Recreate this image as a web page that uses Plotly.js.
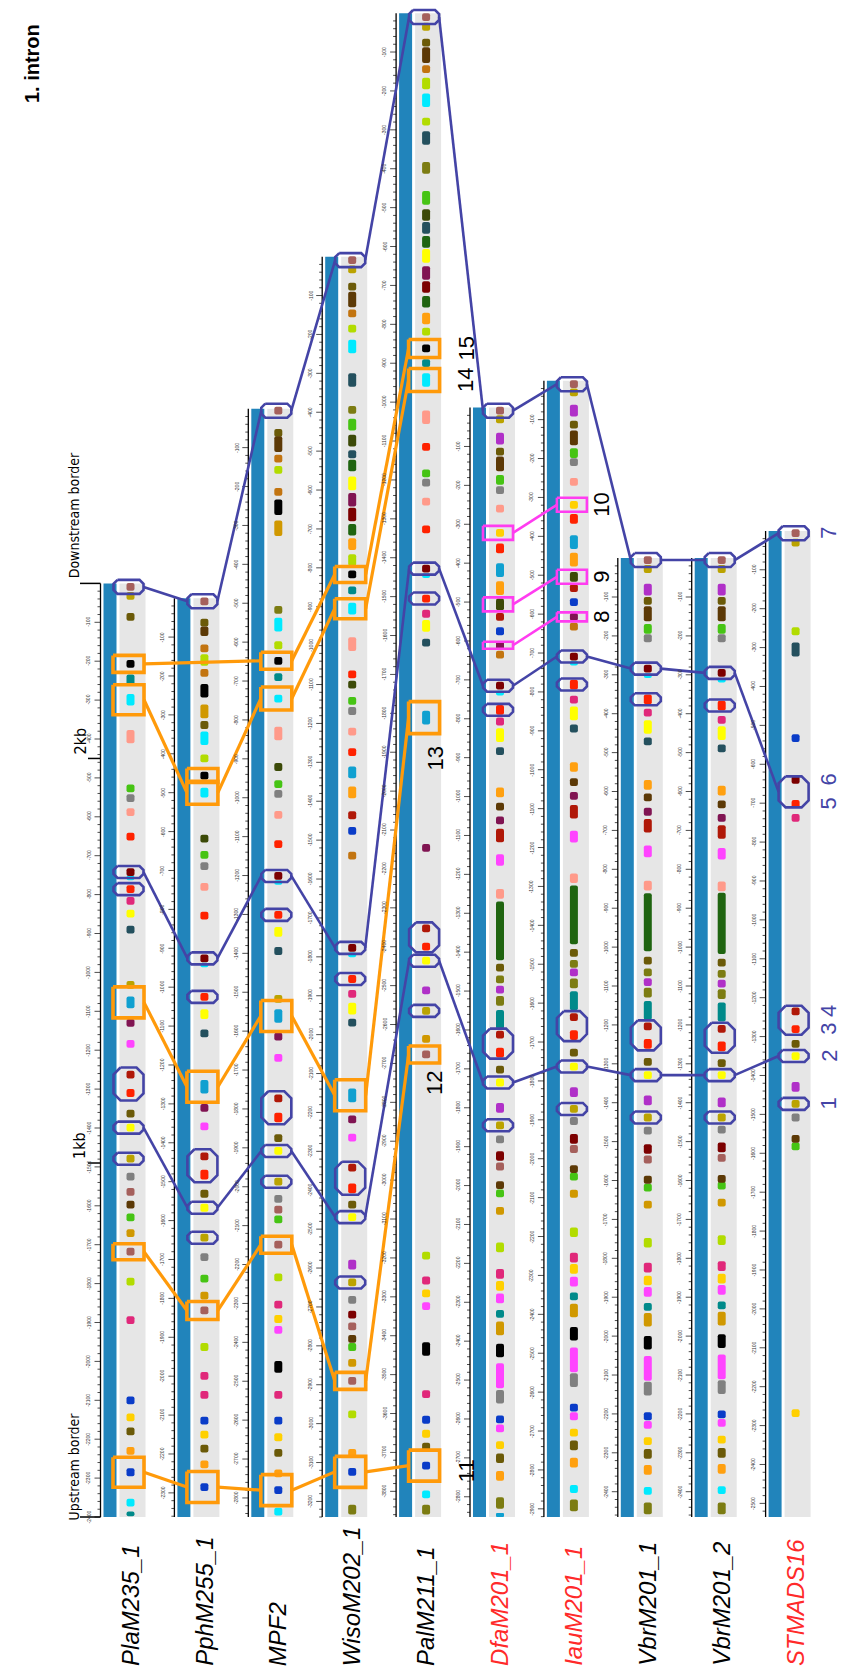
<!DOCTYPE html>
<html><head><meta charset="utf-8">
<script src="https://cdn.plot.ly/plotly-3.0.1.min.js"></script>
<style>html,body{margin:0;padding:0;background:#fff}#chart{width:842px;height:1677px}</style>
</head><body><div id="chart"></div>
<script>
// ---------------- DATA ----------------
const trackNames = ['PlaM235_1','PphM255_1','MPF2','WisoM202_1','PalM211_1','DfaM201_1','IauM201_1','VbrM201_1','VbrM201_2','STMADS16'];
const nameColors = ['#000','#000','#000','#000','#000','#ff2a2a','#ff2a2a','#000','#000','#ff2a2a'];
const trackLengths = [2400, 2362, 2849, 3240, 3866, 2852, 2921, 2465, 2465, 2535];

// motif: [position bp (from upstream border), motif type, length bp]
const PlaM235_1 = [[2391,'rb'],[2368,'og'],[2314,'do'],[2193,'bk'],[2152,'te',28],[2101,'cy',30],[2006,'sa',34],[1873,'gr'],[1848,'gy'],[1812,'sa'],[1749,'re'],[1658,'mr'],[1643,'cy',12],[1614,'re'],[1584,'cr'],[1551,'ye'],[1510,'ds'],[1368,'og'],[1323,'sb',30],[1270,'mp'],[1216,'mg'],[1137,'dr'],[1090,'re'],[1037,'do'],[1001,'ye'],[921,'og'],[875,'gy'],[836,'rb'],[803,'db'],[770,'gr'],[730,'gd'],[682,'rb'],[605,'yg'],[506,'cr'],[300,'bl'],[256,'go'],[220,'do'],[170,'or'],[115,'bl'],[37,'cy'],[8,'te',12]];
const PphM255_1 = [[2354,'rb'],[2299,'do'],[2277,'db',25],[2233,'ob'],[2203,'yg',30],[2170,'ob'],[2124,'bk',35],[2071,'gd',35],[2036,'do'],[2002,'cy',35],[1950,'yg'],[1906,'bk'],[1862,'cy',25],[1744,'dg'],[1702,'gr'],[1673,'gy'],[1620,'sa'],[1546,'re'],[1436,'mr'],[1419,'cy',12],[1337,'re'],[1293,'ye',25],[1243,'ds'],[1106,'sb',35],[1052,'mp'],[1004,'mg'],[927,'dr'],[880,'re',25],[831,'do'],[795,'ye'],[718,'og'],[668,'gy'],[613,'gr'],[569,'gd'],[531,'rb'],[437,'yg'],[363,'cr'],[314,'cr'],[248,'bl'],[212,'go'],[176,'do'],[135,'or'],[77,'bl']];
const MPF2 = [[2844,'rb'],[2787,'do'],[2758,'db',40],[2721,'ob'],[2692,'yg'],[2635,'ob'],[2596,'bk',40],[2542,'gd',40],[2332,'ol'],[2294,'cy',35],[2241,'yg'],[2201,'bk'],[2159,'te'],[2104,'cy'],[2014,'sa',35],[1928,'dg'],[1884,'gr'],[1859,'gy'],[1805,'sa'],[1730,'re'],[1648,'mr'],[1631,'cy',12],[1548,'re'],[1504,'ye',25],[1455,'ds'],[1332,'og'],[1288,'sb',35],[1235,'mp'],[1180,'mg'],[1076,'dr'],[1027,'re',25],[974,'do'],[941,'ye'],[862,'og'],[818,'gy'],[790,'rb'],[765,'gr'],[700,'rb'],[616,'yg'],[546,'cr'],[509,'go'],[481,'mg'],[386,'bk',30],[314,'cr'],[248,'bl'],[205,'go'],[165,'do'],[112,'or'],[69,'bl'],[14,'cy']];
const WisoM202_1 = [[3231,'rb'],[3207,'og'],[3163,'do'],[3130,'db',40],[3094,'ob'],[3055,'yg'],[3009,'cy',35],[2923,'ds',35],[2846,'ol'],[2808,'gr',30],[2767,'dg',30],[2732,'ds'],[2703,'dk',30],[2657,'ye',35],[2615,'mp',35],[2577,'mr',35],[2538,'dk',30],[2501,'or',30],[2460,'yg',30],[2423,'bk'],[2382,'te'],[2335,'cy',30],[2244,'sa',35],[2166,'re'],[2140,'dg'],[2098,'gr'],[2072,'gy'],[2019,'sa'],[1966,'re'],[1914,'sb',30],[1863,'or',30],[1804,'dr'],[1764,'bl'],[1700,'ob'],[1463,'mr'],[1445,'cy',12],[1383,'re'],[1345,'cr'],[1307,'ye',30],[1271,'ds'],[1084,'sb',35],[1022,'mp'],[975,'mg'],[898,'dr'],[845,'re',25],[803,'do'],[771,'ye'],[649,'pu',25],[603,'og'],[558,'gy'],[520,'mr'],[490,'rb'],[458,'db'],[437,'gr'],[396,'gd'],[350,'rb'],[264,'yg'],[165,'or'],[116,'bl'],[19,'ol',25]];
const PalM211_1 = [[3856,'rb'],[3831,'og'],[3790,'do'],[3758,'db',40],[3722,'ob'],[3685,'yg',30],[3642,'cy',35],[3587,'yg'],[3545,'ds',35],[3468,'ol',30],[3391,'gr',35],[3347,'dg',30],[3314,'ds',30],[3278,'dk',30],[3242,'ye',35],[3198,'mp',35],[3162,'mr',30],[3124,'dk',30],[3081,'or',30],[3047,'yg'],[3004,'bk'],[2966,'te'],[2923,'cy',35],[2827,'sa',35],[2751,'re'],[2683,'gr'],[2659,'gy'],[2610,'sa'],[2539,'re'],[2438,'mr'],[2420,'cy',12],[2361,'re'],[2322,'cr'],[2291,'ye',30],[2248,'ds'],[2055,'sb',35],[1720,'mp'],[1513,'dr'],[1466,'re'],[1430,'ye'],[1354,'pu'],[1301,'og'],[1229,'gd'],[1189,'rb'],[672,'yg'],[608,'cr'],[575,'go'],[542,'mg'],[432,'bk',35],[316,'cr'],[250,'bl'],[214,'go'],[181,'do'],[132,'bl'],[58,'cy'],[19,'ol',25]];
const DfaM201_1 = [[2844,'rb'],[2822,'og'],[2772,'pu',30],[2739,'do'],[2707,'db',38],[2666,'gr',25],[2640,'gy'],[2592,'sa'],[2530,'go'],[2490,'re',25],[2434,'sb',35],[2388,'or',35],[2346,'dg',30],[2314,'dr'],[2277,'bl'],[2241,'mp'],[2217,'ob'],[2137,'mr'],[2118,'cy',12],[2075,'re',25],[2045,'cr'],[2010,'ye',35],[1969,'ds'],[1863,'or',25],[1826,'db'],[1791,'mp'],[1752,'dr',35],[1689,'mg',30],[1602,'sa',25],[1507,'dk',151],[1412,'do'],[1382,'ol'],[1356,'pu'],[1327,'ol',25],[1279,'te',49],[1240,'dr'],[1194,'re',25],[1150,'do'],[1117,'ye'],[1052,'pu',25],[1007,'og'],[971,'gy'],[928,'mr',25],[901,'rb'],[853,'db'],[832,'gr'],[787,'gd'],[693,'yg',25],[625,'cr',25],[594,'go',25],[562,'mg',25],[522,'te'],[485,'gd',35],[428,'bk',35],[363,'mg',64],[309,'gy',35],[251,'bl'],[228,'mg'],[185,'go'],[151,'do',25],[106,'or',25],[36,'ol',30],[5,'sb',10]];
const IauM201_1 = [[2912,'rb'],[2891,'og'],[2844,'pu',30],[2808,'do'],[2774,'db',38],[2735,'gr',25],[2712,'gy'],[2661,'sa'],[2602,'go'],[2566,'re',25],[2506,'sb',35],[2461,'or',35],[2417,'dg',25],[2388,'dr'],[2352,'bl'],[2314,'mp'],[2289,'ob'],[2212,'mr'],[2195,'cy',12],[2140,'re',25],[2101,'cr'],[2066,'ye',35],[2027,'ds'],[1928,'or',25],[1889,'db'],[1854,'mp'],[1813,'dr',35],[1749,'mg',30],[1642,'sa',25],[1548,'dk',151],[1450,'do'],[1422,'ol'],[1400,'pu'],[1372,'ol',25],[1327,'te',49],[1285,'dr'],[1239,'re',25],[1194,'do'],[1158,'ye'],[1092,'pu',25],[1049,'og'],[1018,'gy'],[972,'mr',25],[946,'rb'],[894,'db'],[875,'gr'],[831,'gd'],[732,'yg',25],[667,'cr',25],[638,'go',25],[605,'mg',25],[567,'te'],[531,'gd',35],[471,'bk',35],[404,'mg',64],[352,'gy',35],[281,'bl'],[259,'mg'],[217,'go'],[184,'do',25],[140,'or',25],[72,'cy'],[30,'ol',30]];
const VbrM201_1 = [[2460,'rb'],[2437,'og'],[2384,'pu',30],[2355,'do'],[2322,'db',38],[2283,'gr',25],[2259,'gy'],[2181,'mr'],[2163,'cy',12],[2102,'re',25],[2068,'cr'],[2031,'ye',35],[1994,'ds'],[1882,'or',25],[1850,'db'],[1813,'mp'],[1777,'dr',35],[1711,'mg',30],[1623,'sa',25],[1529,'dk',149],[1430,'do'],[1400,'ol'],[1375,'pu'],[1348,'ol',25],[1302,'te',49],[1261,'dr'],[1216,'re',25],[1170,'do'],[1136,'ye'],[1071,'pu',25],[1027,'og'],[993,'gy'],[946,'mr',25],[919,'rb'],[867,'db'],[847,'gr'],[803,'gd'],[705,'yg',25],[641,'cr',25],[608,'go',25],[579,'mg',25],[540,'te'],[507,'gd',35],[448,'bk',35],[382,'mg',64],[330,'gy',35],[259,'bl'],[237,'mg'],[195,'go'],[162,'do',25],[121,'or',25],[67,'cy'],[22,'ol',30]];
const VbrM201_2 = [[2460,'rb'],[2437,'og'],[2384,'pu',30],[2355,'do'],[2322,'db',38],[2283,'gr',25],[2259,'gy'],[2170,'mr'],[2151,'cy',12],[2086,'re',25],[2049,'cr'],[2015,'ye',35],[1976,'ds'],[1867,'or',25],[1832,'db'],[1797,'mp'],[1761,'dr',35],[1705,'mg',30],[1621,'sa',25],[1526,'dk',157],[1425,'do'],[1396,'ol'],[1371,'pu'],[1344,'ol',25],[1298,'te',49],[1255,'dr'],[1210,'re',25],[1167,'do'],[1136,'ye'],[1066,'pu',25],[1027,'og'],[996,'gy'],[950,'mr',25],[923,'rb'],[869,'db'],[852,'gr'],[808,'gd'],[712,'yg',25],[645,'cr',25],[613,'go',25],[584,'mg',25],[544,'te'],[510,'gd',35],[452,'bk',35],[386,'mg',64],[334,'gy',35],[264,'bl'],[242,'mg'],[199,'go'],[165,'do',25],[124,'or',25],[69,'cy'],[22,'ol',30]];
const STMADS16 = [[2529,'rb'],[2505,'og'],[2277,'yg'],[2230,'ds',36],[2002,'bl'],[1895,'mr'],[1833,'re'],[1797,'cr'],[1300,'dr'],[1254,'re'],[1216,'do'],[1185,'ye'],[1106,'pu',25],[1062,'og'],[1027,'gy'],[972,'db'],[953,'gr'],[267,'go']];
const tracks = [PlaM235_1, PphM255_1, MPF2, WisoM202_1, PalM211_1, DfaM201_1, IauM201_1, VbrM201_1, VbrM201_2, STMADS16];

const motifColors = {rb:'#a5605c',og:'#bba300',do:'#6b5a08',db:'#5c3906',ob:'#c27410',yg:'#b2dc00',cy:'#00eaff',ds:'#24505e',ol:'#7c7c12',gr:'#46c414',dg:'#3c4a08',dk:'#1f6410',ye:'#ffff00',mp:'#801452',mr:'#7c0000',or:'#ffa010',bk:'#000000',te:'#008a8a',sa:'#ff9a8a',re:'#ff2200',gy:'#808080',sb:'#10a0d0',dr:'#b01808',bl:'#0a3cc8',mg:'#ff44ff',cr:'#e0287a',go:'#ffd000',pu:'#b030c8',gd:'#d09800'};

// conserved motif boxes: [track, position bp, box height px]
const orangeBoxes = [[0,2193,17],[0,2101,30],[0,1323,31],[0,682,16],[0,115,30],[1,1906,14],[1,1862,23],[1,1106,31],[1,531,18],[1,77,31],[2,2201,17],[2,2104,23],[2,1288,31],[2,700,17],[2,69,31],[3,2423,16],[3,2335,20],[3,1084,31],[3,350,17],[3,116,31],[4,3004,18],[4,2923,23],[4,2055,32],[4,1189,17],[4,132,31]];
const blueBoxes = [[0,2391,14],[1,2354,14],[2,2844,14],[3,3231,14],[4,3856,14],[5,2844,14],[6,2912,14],[7,2460,14],[8,2460,14],[9,2529,14],
  [0,1658,12],[1,1436,12],[2,1648,12],[3,1463,12],[4,2438,12],[5,2137,12],[6,2212,12],[7,2181,12],[8,2170,12],
  [0,1614,12],[1,1337,12],[2,1548,12],[3,1383,12],[4,2361,12],[5,2075,12],[6,2140,12],[7,2102,12],[8,2086,12],
  [0,1001,12],[1,795,12],[2,941,12],[3,771,12],[4,1430,12],[5,1117,12],[6,1158,12],[7,1136,12],[8,1136,12],[9,1185,12],
  [0,921,12],[1,718,12],[2,862,12],[3,603,12],[4,1301,12],[5,1007,12],[6,1049,12],[7,1027,12],[8,1027,12],[9,1062,12]];
const blueOctagons = [[0,1113,33],[1,903,33],[2,1052,33],[3,871,33],[4,1490,30],[5,1217,30],[6,1262,30],[7,1238,30],[8,1232,30],[9,1277,29],[9,1864,31]];
const magentaBoxes = [[5,2530,14],[6,2602,14],[5,2346,14],[6,2417,14],[5,2241,7],[6,2314,9]];

const orangeChains = [
  [[0,2193],[2,2201],[3,2423],[4,3004]],
  [[0,2101],[1,1862],[2,2104],[3,2335],[4,2923]],
  [[0,1323],[1,1106],[2,1288],[3,1084],[4,2055]],
  [[0,682],[1,531],[2,700],[3,350],[4,1189]],
  [[0,115],[1,77],[2,69],[3,116],[4,132]]];
const blueChains = [
  [[0,2391],[1,2354],[2,2844],[3,3231],[4,3856],[5,2844],[6,2912],[7,2460],[8,2460],[9,2529]],
  [[0,1658],[1,1436],[2,1648],[3,1463],[4,2438],[5,2137],[6,2212],[7,2181],[8,2170],[9,1864]],
  [[0,1001],[1,795],[2,941],[3,771],[4,1430],[5,1117],[6,1158],[7,1136],[8,1136],[9,1185]]];
const magentaChains = [[[5,2530],[6,2602]],[[5,2346],[6,2417]],[[5,2241],[6,2314]]];

// number labels: [track, position bp, text]
const blackLabels = [[4,3004,'15'],[4,2923,'14'],[4,1950,'13'],[4,1116,'12'],[4,118,'11'],[6,2602,'10'],[6,2417,'9'],[6,2314,'8']];
const blueLabels = [[9,2529,'7'],[9,1895,'6'],[9,1833,'5'],[9,1300,'4'],[9,1254,'3'],[9,1185,'2'],[9,1062,'1']];
const kbTicks = [[910,'1kb'],[1950,'2kb']];

// ---------------- GEOMETRY ----------------
const W = 842, H = 1677, BOTTOM_PX = 1517, PX_PER_BP = 0.389, BP_PER_PX = 1/PX_PER_BP;
const X0 = 130.5, DX = 73.9;
const cx = i => X0 + i*DX;
const yMin = -(H-BOTTOM_PX)/PX_PER_BP, yMax = BOTTOM_PX/PX_PER_BP;

const data = [];
data.push({type:'bar', x:trackLengths.map((_,i)=>cx(i)-20.5), y:trackLengths, base:trackLengths.map(()=>0), width:13, marker:{color:'#2184bb'}, hoverinfo:'skip'});
data.push({type:'bar', x:trackLengths.map((_,i)=>cx(i)+2), y:trackLengths, base:trackLengths.map(()=>0), width:26, marker:{color:'#e6e6e6'}, hoverinfo:'skip'});

// rulers
const rx=[], ry=[], tx=[], ty=[];
const annotations = [];
trackLengths.forEach((L,i)=>{
  const x = cx(i)-30;
  rx.push(x,x,null); ry.push(0,L,null);
  for(let k=1; L-20*k>=0; k++){
    const y = L-20*k, len = (k%5===0)?6:3;
    tx.push(x-len,x,null); ty.push(y,y,null);
    if(k%5===0){
      annotations.push({x:x-12, y:y, text:'-'+(20*k), showarrow:false, textangle:-90, font:{size:5, color:'#333', family:'Liberation Sans'}, xanchor:'center', yanchor:'middle'});
    }
  }
});
data.push({type:'scatter', mode:'lines', x:rx, y:ry, line:{color:'#000', width:1.3}, hoverinfo:'skip'});
data.push({type:'scatter', mode:'lines', x:tx, y:ty, line:{color:'#000', width:0.7}, hoverinfo:'skip'});

// border and kb ticks on first ruler
const bx=[], by=[];
[0, trackLengths[0]].forEach(y=>{ bx.push(80, cx(0)-30, null); by.push(y,y,null); });
kbTicks.forEach(([y])=>{ bx.push(88, cx(0)-30, null); by.push(y,y,null); });
data.push({type:'scatter', mode:'lines', x:bx, y:by, line:{color:'#000', width:1.5}, hoverinfo:'skip'});

// motifs
const groups = {};
tracks.forEach((arr,i)=>arr.forEach(m=>{
  const pos=m[0], key=m[1], len=m[2]||20;
  if(!groups[key]) groups[key]={x:[],y:[],base:[]};
  groups[key].x.push(cx(i)); groups[key].y.push(len); groups[key].base.push(pos-len/2);
}));
Object.keys(groups).forEach(k=>{
  data.push({type:'bar', x:groups[k].x, y:groups[k].y, base:groups[k].base, width:8, marker:{color:motifColors[k], cornerradius:2}, hoverinfo:'skip'});
});

// connecting lines
function chainTrace(chains, color, width, halfW){
  const xs=[], ys=[];
  chains.forEach(ch=>{
    for(let j=0;j<ch.length-1;j++){
      const [a,pa]=ch[j], [b,pb]=ch[j+1];
      xs.push(cx(a)-2+halfW, cx(b)-2-halfW, null); ys.push(pa,pb,null);
    }
  });
  return {type:'scatter', mode:'lines', x:xs, y:ys, line:{color:color, width:width}, hoverinfo:'skip'};
}
data.push(chainTrace(orangeChains, '#ff9a0a', 3.2, 15.5));
data.push(chainTrace(blueChains, '#4444a6', 2.6, 15));
data.push(chainTrace(magentaChains, '#ff3cf0', 2.6, 15));

// boxes
function boxTrace(boxes, color, width, wPx, r){
  const xs=[], ys=[];
  boxes.forEach(([t,pos,hPx])=>{
    const c = cx(t)-2, hw=wPx/2, hh=hPx/2*BP_PER_PX;
    const rr = Math.min(r, hPx/2-1), ryb = rr*BP_PER_PX;
    xs.push(c-hw+rr, c+hw-rr, c+hw, c+hw, c+hw-rr, c-hw+rr, c-hw, c-hw, c-hw+rr, null);
    ys.push(pos+hh, pos+hh, pos+hh-ryb, pos-hh+ryb, pos-hh, pos-hh, pos-hh+ryb, pos+hh-ryb, pos+hh, null);
  });
  return {type:'scatter', mode:'lines', x:xs, y:ys, line:{color:color, width:width}, hoverinfo:'skip'};
}
data.push(boxTrace(orangeBoxes, '#ff9a0a', 3.6, 31, 0));
data.push(boxTrace(blueBoxes, '#4444a6', 2.6, 30, 4));
data.push(boxTrace(blueOctagons, '#4444a6', 2.6, 30, 7));
data.push(boxTrace(magentaBoxes, '#ff3cf0', 2.6, 30, 0));

// ---------------- TEXT ----------------
const narrow = 'Liberation Sans Narrow, Arial Narrow, DejaVu Sans Condensed, Liberation Sans, Arial';
trackNames.forEach((n,i)=>{
  annotations.push({x:cx(i), y:-388, text:n, showarrow:false, textangle:-90, xanchor:'center', yanchor:'bottom',
    font:{family:'Liberation Sans, Arial', size:24, color:nameColors[i], style:'italic'}});
});
annotations.push({x:32, y:3735, text:'<b>1. intron</b>', showarrow:false, textangle:-90, xanchor:'center', yanchor:'middle', font:{family:'Liberation Sans, Arial', size:20, color:'#000'}});
annotations.push({x:74, y:-14, text:'Upstream border', showarrow:false, textangle:-90, xanchor:'center', yanchor:'bottom', font:{family:narrow, size:14, color:'#000'}});
annotations.push({x:74, y:trackLengths[0]+8, text:'Downstream border', showarrow:false, textangle:-90, xanchor:'center', yanchor:'bottom', font:{family:narrow, size:14, color:'#000'}});
kbTicks.forEach(([y,t])=>{
  annotations.push({x:80, y:y+4, text:t, showarrow:false, textangle:-90, xanchor:'center', yanchor:'bottom', font:{family:narrow, size:16, color:'#000'}});
});
blackLabels.forEach(([t,y,s])=>{
  const dx = (s==='12'||s==='13') ? 9 : (t===6 ? 28 : 40);
  annotations.push({x:cx(t)+dx, y:y, text:s, showarrow:false, textangle:-90, xanchor:'center', yanchor:'middle', font:{family:'Liberation Sans, Arial', size:22, color:'#000'}});
});
blueLabels.forEach(([t,y,s])=>{
  annotations.push({x:cx(t)+33, y:y, text:s, showarrow:false, textangle:-90, xanchor:'center', yanchor:'middle', font:{family:'Liberation Sans, Arial', size:22, color:'#4444a6'}});
});

const layout = {
  width:W, height:H, margin:{l:0,r:0,t:0,b:0,pad:0},
  paper_bgcolor:'#fff', plot_bgcolor:'#fff', showlegend:false, barmode:'overlay', hovermode:false,
  xaxis:{range:[0,W], visible:false, fixedrange:true},
  yaxis:{range:[yMin,yMax], visible:false, fixedrange:true},
  annotations: annotations
};
Plotly.newPlot('chart', data, layout, {staticPlot:true, displayModeBar:false});
</script>
</body></html>
